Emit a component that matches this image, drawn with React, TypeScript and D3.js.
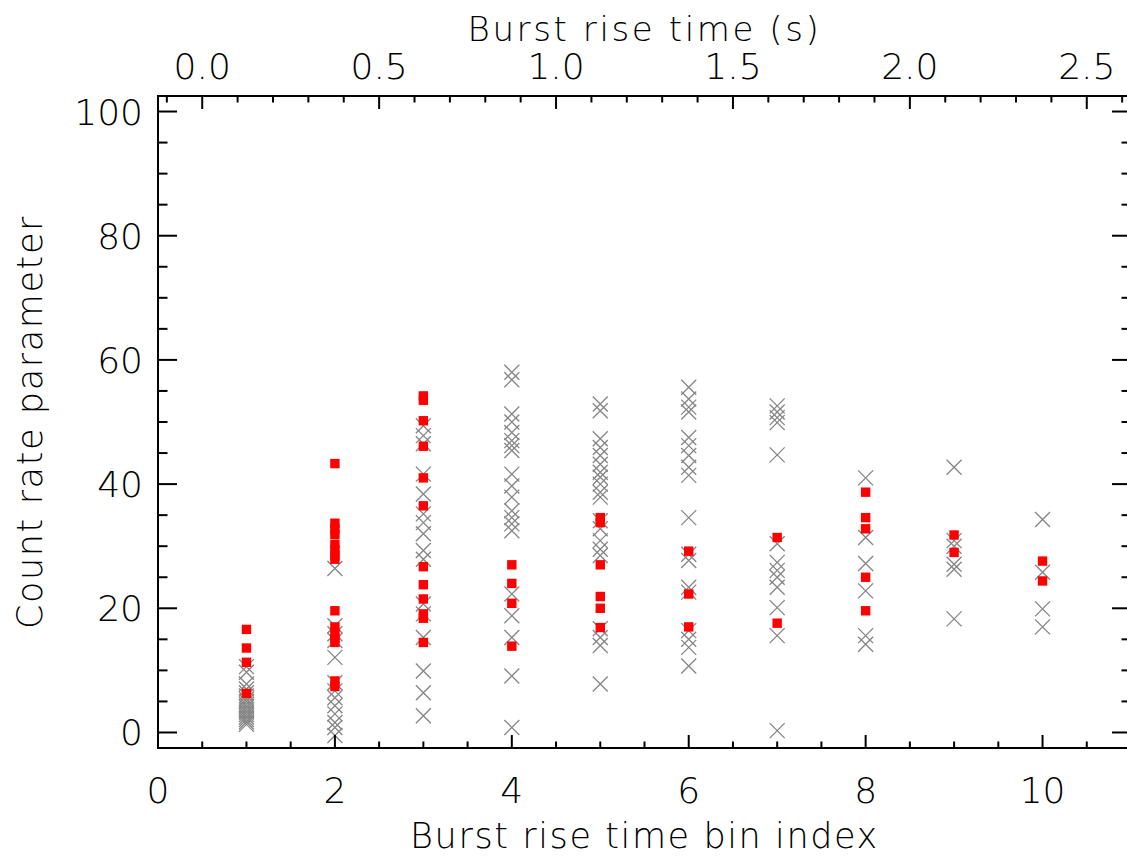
import React from 'react';
import * as d3 from 'd3';

// bin index of each column
const bins = [1, 2, 3, 4, 5, 6, 7, 8, 9, 10];

// grey crosses, one list per bin
const crossValues = [
  [10.6, 9.7, 7.8, 7.0, 6.4, 5.9, 5.4, 5.0, 4.5, 4.1, 3.7, 3.3, 2.9, 2.5, 2.1, 1.7, 1.3],
  [26.4, 17.2, 15.9, 14.8, 12.1, 8.0, 6.7, 5.6, 4.3, 3.0, 1.6, 0.8, -0.5],
  [49.4, 47.8, 46.5, 41.6, 38.4, 35.2, 33.8, 32.0, 29.3, 27.9, 20.7, 19.1, 15.3, 9.9, 6.4, 2.7],
  [58.0, 56.8, 51.3, 50.0, 48.3, 47.0, 46.2, 45.4, 41.6, 39.7, 37.9, 35.7, 34.6, 33.6, 32.5, 22.3, 18.8, 15.3, 9.1, 0.8],
  [52.9, 51.8, 47.3, 45.9, 44.6, 43.2, 41.9, 41.1, 40.0, 38.7, 37.9, 34.1, 32.8, 30.9, 29.5, 28.5, 16.7, 15.3, 14.0, 7.8],
  [55.6, 53.7, 52.4, 51.6, 47.5, 46.2, 44.6, 42.7, 41.4, 34.6, 28.7, 27.7, 23.4, 22.6, 16.4, 15.0, 13.7, 10.7],
  [52.6, 51.6, 50.7, 49.9, 44.7, 30.4, 27.4, 26.1, 25.0, 23.4, 20.1, 15.6, 0.3],
  [41.0, 31.4, 27.2, 22.8, 15.6, 14.2],
  [42.7, 30.9, 30.0, 27.1, 26.3, 18.3],
  [34.3, 25.8, 19.9, 17.0],
];

// red squares, one list per bin
const squareValues = [
  [16.6, 13.6, 11.3, 6.3],
  [43.3, 33.7, 32.8, 31.9, 30.3, 29.4, 28.6, 27.9, 19.6, 17.0, 16.0, 15.2, 14.5, 8.3, 7.4],
  [54.2, 53.5, 50.2, 46.1, 41.0, 36.5, 26.7, 23.8, 21.5, 19.1, 18.4, 14.5],
  [27.0, 24.0, 20.8, 13.9],
  [34.6, 33.8, 27.0, 21.9, 20.0, 16.9],
  [29.2, 22.3, 17.0],
  [31.4, 17.6],
  [38.7, 34.6, 32.8, 25.0, 19.6],
  [31.8, 29.0],
  [27.6, 24.4],
];

const bottomTicks = [0, 2, 4, 6, 8, 10];
const topTicks = [0, 0.5, 1.0, 1.5, 2.0, 2.5];
const yTicks = [0, 20, 40, 60, 80, 100];

const W = 1127;
const H = 857;
const margin = { left: 158, right: 1131, top: 96, bottom: 748 };
const font = '"DejaVu Sans", sans-serif';

export default function App() {
  const x = d3.scaleLinear().domain([0, 11]).range([margin.left, margin.right]);
  const xTop = d3.scaleLinear().domain([-0.125, 2.625]).range([margin.left, margin.right]);
  const y = d3.scaleLinear().domain([-2.5, 102.5]).range([margin.bottom, margin.top]);

  const xMinor = d3.range(0, 11.01, 0.5);
  const topMinor = d3.range(-0.1, 2.62, 0.1);
  const yMinor = d3.range(0, 101, 5);

  const xMajorLen = 13;
  const yMajorLen = 19;

  const textStyle = { fontFamily: font, fontWeight: 300, fill: '#000' } as const;

  return (
    <svg width={W} height={H} style={{ position: 'absolute', left: 0, top: 0, background: '#fff' }}>
      <rect x={0} y={0} width={W} height={H} fill="#fff" />

      {/* crosses */}
      <g stroke="#858585" strokeWidth={1.3} fill="none">
        {bins.map((b, i) =>
          crossValues[i].map((v, j) => {
            const cx = x(b);
            const cy = y(v);
            const r = 7.5;
            return (
              <path
                key={`c${i}-${j}`}
                d={`M${cx - r},${cy - r}L${cx + r},${cy + r}M${cx - r},${cy + r}L${cx + r},${cy - r}`}
              />
            );
          })
        )}
      </g>

      {/* squares */}
      <g fill="#ff0000">
        {bins.map((b, i) =>
          squareValues[i].map((v, j) => (
            <rect key={`s${i}-${j}`} x={x(b) - 4.7} y={y(v) - 4.7} width={9.4} height={9.4} />
          ))
        )}
      </g>

      {/* frame */}
      <g stroke="#000" strokeWidth={2} fill="none">
        <rect x={margin.left} y={margin.top} width={margin.right - margin.left} height={margin.bottom - margin.top} />
        {xMinor.map(t => {
          const len = t % 2 === 0 ? xMajorLen : xMajorLen / 2;
          return <line key={`xb${t}`} x1={x(t)} x2={x(t)} y1={margin.bottom} y2={margin.bottom - len} />;
        })}
        {topMinor.map((t, i) => {
          const major = topTicks.some(m => Math.abs(m - t) < 1e-6);
          const len = major ? xMajorLen : xMajorLen / 2;
          return <line key={`xt${i}`} x1={xTop(t)} x2={xTop(t)} y1={margin.top} y2={margin.top + len} />;
        })}
        {yMinor.map(t => {
          const len = t % 20 === 0 ? yMajorLen : yMajorLen / 2;
          return (
            <g key={`y${t}`}>
              <line x1={margin.left} x2={margin.left + len} y1={y(t)} y2={y(t)} />
              <line x1={margin.right} x2={margin.right - len} y1={y(t)} y2={y(t)} />
            </g>
          );
        })}
      </g>

      {/* tick labels */}
      <g {...textStyle} fontSize={36}>
        {bottomTicks.map(t => (
          <text key={`bl${t}`} x={x(t)} y={803} textAnchor="middle">
            {t}
          </text>
        ))}
        {topTicks.map(t => (
          <text key={`tl${t}`} x={xTop(t)} y={79} textAnchor="middle">
            {d3.format('.1f')(t)}
          </text>
        ))}
        {yTicks.map(t => (
          <text key={`yl${t}`} x={143} y={y(t) + 13} textAnchor="end">
            {t}
          </text>
        ))}
      </g>

      {/* titles */}
      <g {...textStyle} fontSize={35} letterSpacing={1.6}>
        <text x={(margin.left + margin.right) / 2} y={848} textAnchor="middle">
          Burst rise time bin index
        </text>
        <text x={(margin.left + margin.right) / 2} y={41} textAnchor="middle" fontSize={34} letterSpacing={2.6}>
          Burst rise time (s)
        </text>
        <text
          transform={`translate(42,${(margin.top + margin.bottom) / 2}) rotate(-90)`}
          textAnchor="middle"
        >
          Count rate parameter
        </text>
      </g>
    </svg>
  );
}
